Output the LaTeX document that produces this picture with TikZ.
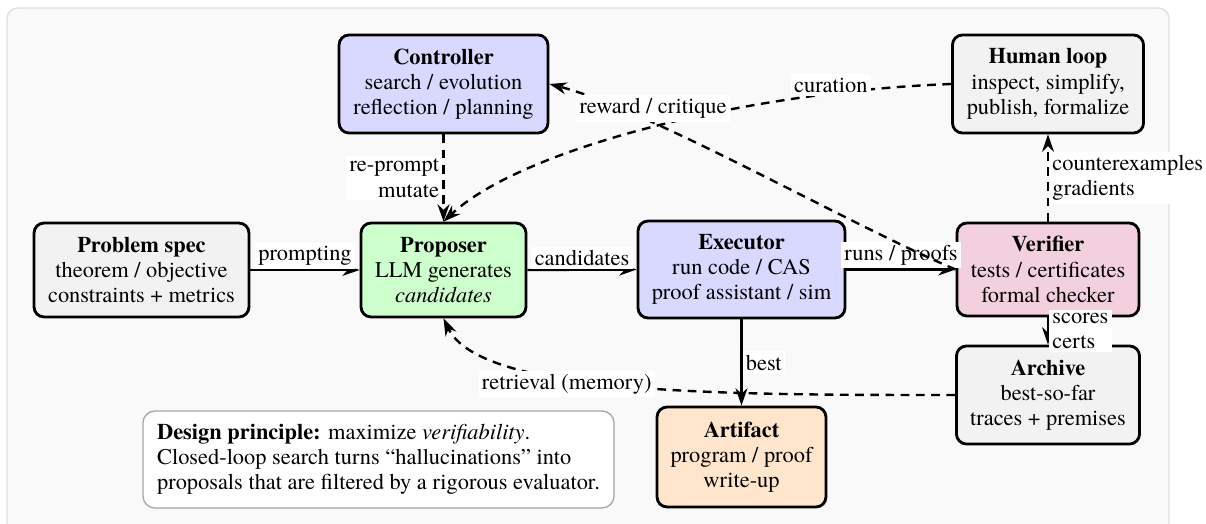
\documentclass[tikz,border=0pt]{standalone}
\usepackage{fontspec}
\setmainfont{TeX Gyre Termes}
\usetikzlibrary{arrows.meta}
\definecolor{cblue}{RGB}{217,217,255}
\definecolor{cgreen}{RGB}{204,255,204}
\definecolor{cpink}{RGB}{243,208,221}
\definecolor{corange}{RGB}{255,229,204}
\definecolor{cgray}{RGB}{242,242,242}
\definecolor{bgc}{RGB}{249,249,249}
\definecolor{framec}{RGB}{222,222,222}
\begin{document}
\begin{tikzpicture}[x=0.46pt,y=-0.46pt,
  font=\fontsize{10.3pt}{11.6pt}\selectfont,
  box/.style={draw=black, line width=1.3pt, rounded corners=4.6pt, align=center, inner sep=3pt},
  lbl/.style={fill=white, inner sep=1.5pt},
  arr/.style={line width=1.1pt, -{Stealth[length=8pt,width=5.5pt]}},
  darr/.style={arr, dash pattern=on 4pt off 3pt},
]
\useasboundingbox (0,0) rectangle (1206,524);
\draw[draw=framec, line width=0.6pt, fill=bgc, rounded corners=5pt] (7,8) rectangle (1169,580);

\node[box, fill=cblue, minimum width=96.1pt, minimum height=45.1pt] (ctrl) at (443.5,84)
  {\textbf{Controller}\\search / evolution\\reflection / planning};
\node[box, fill=cgray, minimum width=87.9pt, minimum height=45.1pt] (human) at (1048,84)
  {\textbf{Human loop}\\inspect, simplify,\\publish, formalize};
\node[box, fill=cgray, minimum width=98.9pt, minimum height=43.2pt] (prob) at (141.5,270)
  {\textbf{Problem spec}\\theorem / objective\\constraints + metrics};
\node[box, fill=cgreen, minimum width=75.9pt, minimum height=43.2pt] (prop) at (443.5,270)
  {\textbf{Proposer}\\LLM generates\\\textit{candidates}};
\node[box, fill=cblue, minimum width=95.2pt, minimum height=44.6pt] (exec) at (741.5,269.5)
  {\textbf{Executor}\\run code / CAS\\proof assistant / sim};
\node[box, fill=cpink, minimum width=83.7pt, minimum height=42.8pt] (ver) at (1048,269.5)
  {\textbf{Verifier}\\tests / certificates\\formal checker};
\node[box, fill=cgray, minimum width=84.2pt, minimum height=45.1pt] (arch) at (1048,395)
  {\textbf{Archive}\\best-so-far\\traces + premises};
\node[box, fill=corange, minimum width=77.7pt, minimum height=46pt] (art) at (741.5,457)
  {\textbf{Artifact}\\program / proof\\write-up};
\node[draw=black!35, line width=0.6pt, fill=white, rounded corners=5.5pt, minimum width=216.7pt,
  minimum height=44.6pt, align=left, inner sep=3pt] (design) at (378.5,459.5)
  {\textbf{Design principle:} maximize \textit{verifiability}.\\Closed-loop search turns “hallucinations” into\\proposals that are filtered by a rigorous evaluator.};

\draw[arr] (prob.east) -- node[lbl, above] {prompting} (prop.west);
\draw[arr] (prop.east) -- node[lbl, above] {candidates} (exec.west);
\draw[arr] (exec.east) -- node[lbl, above] {runs / proofs} (ver.west);
\draw[arr] (exec.south) -- node[lbl, right] {best} (art.north);
\draw[arr] (ver.south) -- node[lbl, right, align=left] {scores\\certs} (arch.north);
\draw[darr] (ver.north) -- node[lbl, right, align=left] {counterexamples\\gradients} (human.south);
\draw[darr] (ctrl.south) -- node[lbl, left, align=right] {re-prompt\\mutate} (prop.north);
\draw[darr] (human.west) .. controls (740,92) and (520,150) .. node[lbl, pos=0.19, yshift=4pt] {curation} (prop.north);
\draw[darr] (ver.west) .. controls (850,225) and (650,110) .. node[lbl, pos=0.72, above] {reward / critique} (ctrl.east);
\draw[darr] (arch.west) .. controls (720,395) and (480,395) .. node[lbl, pos=0.61, yshift=-3pt] {retrieval (memory)} (prop.south);
\end{tikzpicture}
\end{document}
